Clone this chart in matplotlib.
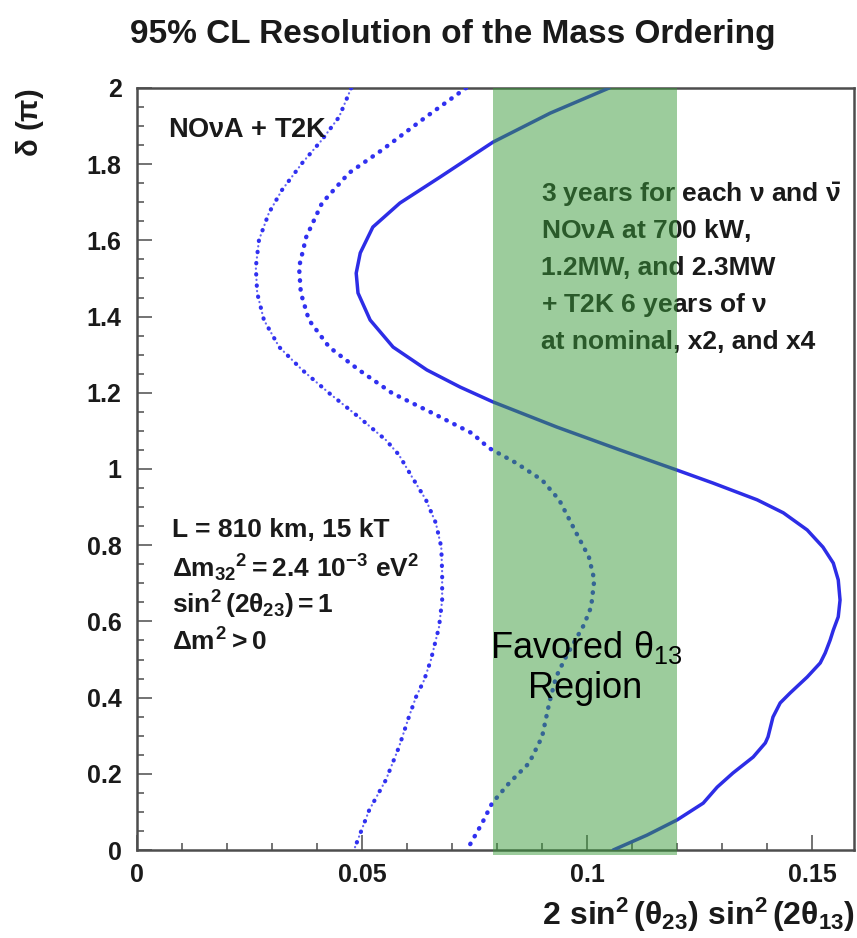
import matplotlib
matplotlib.use('Agg')
import matplotlib.pyplot as plt
from matplotlib.ticker import MultipleLocator, FuncFormatter
from matplotlib.patches import Rectangle

plt.rcParams['font.family'] = ['Liberation Sans', 'DejaVu Sans']
plt.rcParams['mathtext.fontset'] = 'custom'
plt.rcParams['mathtext.rm'] = 'Liberation Sans:bold'
plt.rcParams['mathtext.it'] = 'Liberation Sans:bold'
plt.rcParams['mathtext.bf'] = 'Liberation Sans:bold'
plt.rcParams['mathtext.sf'] = 'Liberation Sans'

# ---------------- data ----------------
# solid curve (x = 2 sin^2 th23 sin^2 2th13, delta in units of pi)
x_solid = [0.1049, 0.0918, 0.0791, 0.0673, 0.0584, 0.0524, 0.0496, 0.0487, 0.0491,
           0.0518, 0.0569, 0.0644, 0.0718, 0.0791, 0.0933, 0.1073, 0.1200, 0.1280,
           0.1378, 0.1436, 0.1489, 0.1524, 0.1547, 0.1558, 0.1562, 0.1558, 0.1547,
           0.1540, 0.1529, 0.1518, 0.1489, 0.1451, 0.1429, 0.1413, 0.1402, 0.1396,
           0.1369, 0.1324, 0.1289, 0.1258, 0.1200, 0.1133, 0.1058]
d_solid = [2.000, 1.934, 1.858, 1.766, 1.698, 1.635, 1.567, 1.514, 1.462,
           1.391, 1.320, 1.260, 1.215, 1.176, 1.110, 1.050, 0.997, 0.963,
           0.919, 0.885, 0.840, 0.795, 0.753, 0.709, 0.656, 0.612, 0.577,
           0.551, 0.517, 0.491, 0.454, 0.412, 0.386, 0.349, 0.297, 0.281,
           0.244, 0.202, 0.165, 0.123, 0.079, 0.039, 0.000]

# dotted (middle) curve
x_dot = [0.0731, 0.0642, 0.0544, 0.0471, 0.0411, 0.0376, 0.0360, 0.0364, 0.0382,
         0.0427, 0.0493, 0.0567, 0.0656, 0.0744, 0.0782, 0.0842, 0.0900, 0.0938,
         0.0976, 0.1004, 0.1016, 0.1009, 0.0993, 0.0953, 0.0931, 0.0916, 0.0900,
         0.0871, 0.0827, 0.0789, 0.0767, 0.0733]
d_dot = [2.000, 1.924, 1.837, 1.777, 1.698, 1.609, 1.530, 1.462, 1.391,
         1.320, 1.260, 1.199, 1.147, 1.094, 1.055, 1.016, 0.971, 0.919,
         0.832, 0.769, 0.709, 0.638, 0.591, 0.507, 0.454, 0.386, 0.297,
         0.228, 0.176, 0.123, 0.071, 0.000]

# dash-dot (left) curve
x_dd = [0.0476, 0.0449, 0.0411, 0.0367, 0.0322, 0.0293, 0.0271, 0.0264, 0.0267,
        0.0282, 0.0316, 0.0367, 0.0427, 0.0493, 0.0553, 0.0582, 0.0611, 0.0642,
        0.0664, 0.0676, 0.0678, 0.0678, 0.0671, 0.0653, 0.0638, 0.0620, 0.0604,
        0.0582, 0.0553, 0.0516, 0.0482]
d_dd = [2.000, 1.924, 1.864, 1.803, 1.732, 1.672, 1.601, 1.530, 1.462,
        1.391, 1.320, 1.260, 1.199, 1.136, 1.076, 1.037, 0.979, 0.919,
        0.858, 0.795, 0.727, 0.656, 0.585, 0.499, 0.446, 0.402, 0.349,
        0.270, 0.184, 0.105, 0.000]

band_range = [0.079, 0.120]

title = "95% CL Resolution of the Mass Ordering"
xlabel = r"$2\ \sin^{2}(\theta_{23})\ \sin^{2}(2\theta_{13})$"
ylabel = r"$\delta\ (\pi)$"
right_lines = [r"3 years for each $\nu$ and $\bar{\nu}$",
               r"NO$\nu$A at 700 kW,",
               r"1.2MW, and 2.3MW",
               r"+ T2K 6 years of $\nu$",
               r"at nominal, x2, and x4"]
left_lines = [r"L = 810 km, 15 kT",
              r"$\Delta m_{32}{}^{2} = 2.4\ 10^{-3}\ \mathrm{eV}^{2}$",
              r"$\sin^{2}(2\theta_{23}) = 1$",
              r"$\Delta m^{2} > 0$"]

# ---------------- figure ----------------
W, H = 857, 938
fig = plt.figure(figsize=(W / 100, H / 100), dpi=100)
ax_l, ax_r, ax_t, ax_b = 137, 854, 88, 850
ax = fig.add_axes([ax_l / W, 1 - ax_b / H, (ax_r - ax_l) / W, (ax_b - ax_t) / H])

blue = '#2d2de6'
dblue = '#3030f0'
ax.plot(x_solid, d_solid, color=blue, lw=2.5, solid_capstyle='round',
        solid_joinstyle='round', zorder=4)
ax.plot(x_dot, d_dot, color=dblue, lw=3.2, linestyle=(0, (0.1, 1.9)),
        dash_capstyle='round', zorder=4)
ax.plot(x_dd, d_dd, color=dblue, lw=3.0, linestyle=(0, (0.1, 2.6)),
        dash_capstyle='round', zorder=4)
ax.plot(x_dd, d_dd, color=dblue, lw=1.6, linestyle=(2.5, (0.1, 4.96)),
        dash_capstyle='round', zorder=4, alpha=0.75)

ax.set_xlim(0, 0.1593)
ax.set_ylim(0, 2)

band = Rectangle((band_range[0], -0.012), band_range[1] - band_range[0], 2.012,
                 facecolor='#3a9a3a', alpha=0.5, edgecolor='none',
                 transform=ax.transData, clip_on=False, zorder=10)
ax.add_patch(band)

spc = '#4d4d4d'
for s in ax.spines.values():
    s.set_color(spc)
    s.set_linewidth(1.8)

ax.xaxis.set_major_locator(MultipleLocator(0.05))
ax.xaxis.set_minor_locator(MultipleLocator(0.01))
ax.yaxis.set_major_locator(MultipleLocator(0.2))
ax.yaxis.set_minor_locator(MultipleLocator(0.05))
fmt = FuncFormatter(lambda v, p: '%g' % round(v, 4))
ax.xaxis.set_major_formatter(fmt)
ax.yaxis.set_major_formatter(fmt)
ax.tick_params(which='both', direction='in', top=False, right=False, color=spc, width=1.1)
ax.tick_params(which='major', length=11)
ax.tick_params(which='minor', length=5)
ax.tick_params(axis='y', which='major', labelsize=18, pad=11)
ax.tick_params(axis='x', which='major', labelsize=18, pad=9)
for lab in ax.get_xticklabels() + ax.get_yticklabels():
    lab.set_fontweight('bold')
    lab.set_color('#1a1a1a')

def afx(px):
    return (px - ax_l) / (ax_r - ax_l)

def afy(py):
    return (ax_b - py) / (ax_b - ax_t)

txtc = '#1a1a1a'
ax.text(afx(168), afy(130), r"NO$\nu$A + T2K", transform=ax.transAxes, fontsize=19.5,
        fontweight='bold', ha='left', va='center', color=txtc, zorder=5)

for py, s in zip([195, 231, 268, 305, 342], right_lines):
    ax.text(afx(541), afy(py), s, transform=ax.transAxes, fontsize=19,
            fontweight='bold', ha='left', va='center', color=txtc, zorder=5)

for py, s in zip([530, 568, 605, 642], left_lines):
    ax.text(afx(172), afy(py), s, transform=ax.transAxes, fontsize=19,
            fontweight='bold', ha='left', va='center', color=txtc, zorder=5)

ax.text(afx(586), afy(647), r"$\mathsf{Favored}\ \mathsf{\theta}_{\mathsf{13}}$",
        transform=ax.transAxes, fontsize=26, ha='center', va='center',
        color='black', zorder=12)
ax.text(afx(585), afy(688), "Region", transform=ax.transAxes, fontsize=26,
        ha='center', va='center', color='black', zorder=12)

fig.text(453 / W, 1 - 35 / H, title, fontsize=24, fontweight='bold',
         ha='center', va='center', color='#1a1a1a')
fig.text(855 / W, 1 - 915 / H, xlabel, fontsize=23, ha='right', va='center',
         color='#1a1a1a')
fig.text(30 / W, 1 - 88 / H, ylabel, fontsize=21, rotation=90, ha='center',
         va='top', color='#1a1a1a')

fig.savefig('out.png', dpi=100)
